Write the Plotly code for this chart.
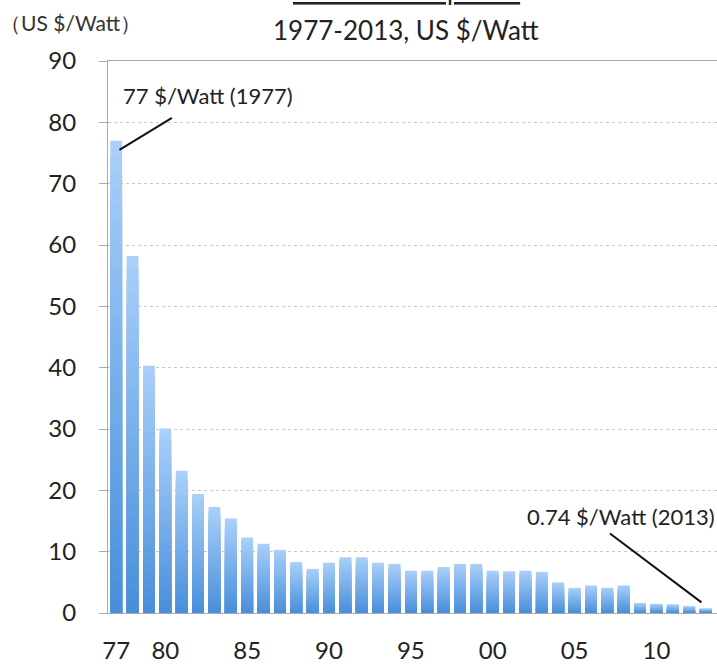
import plotly.graph_objects as go

YEARS = list(range(1977, 2014))
PRICES = [77, 58.2, 40.3, 30.1, 23.2, 19.4, 17.3, 15.4, 12.3, 11.3, 10.3, 8.3, 7.2,
          8.2, 9.1, 9.1, 8.2, 8.0, 6.9, 6.9, 7.5, 8.0, 8.0, 6.9, 6.8, 6.9, 6.7,
          5.0, 4.1, 4.5, 4.1, 4.5, 1.6, 1.5, 1.4, 1.1, 0.74]
TICK_YEARS = [1977, 1980, 1985, 1990, 1995, 2000, 2005, 2010]
TICK_LABELS = ["77", "80", "85", "90", "95", "00", "05", "10"]
Y_TICKS = [0, 10, 20, 30, 40, 50, 60, 70, 80, 90]

FONT = "Lato"
TOP = (170, 208, 250)
BOTTOM = (72, 142, 218)


def mix(t):
    c = [round(BOTTOM[i] + (TOP[i] - BOTTOM[i]) * t) for i in range(3)]
    return f"rgb({c[0]},{c[1]},{c[2]})"


fig = go.Figure()
fig.add_trace(go.Bar(x=YEARS, y=PRICES, width=0.72, marker=dict(color=mix(1.0), line=dict(width=0)),
                     name="US $/Watt", hovertemplate="%{x}: %{y} $/Watt<extra></extra>"))
N = 30
for k in range(1, N):
    f = 1 - k / N
    fig.add_trace(go.Bar(x=YEARS, y=[p * f for p in PRICES], width=0.72,
                         marker=dict(color=mix(f - 0.5 / N), line=dict(width=0)),
                         hoverinfo="skip", showlegend=False))

fig.update_layout(
    width=717, height=669, barmode="overlay", showlegend=False,
    margin=dict(l=108, r=0, t=61, b=56, autoexpand=False),
    paper_bgcolor="white", plot_bgcolor="white",
    font=dict(family=FONT, color="#222"),
    xaxis=dict(range=[1976.5, 2013.7], tickvals=TICK_YEARS, ticktext=TICK_LABELS,
               tickfont=dict(size=24, color="#222"), ticks="", showgrid=False,
               showline=True, mirror=True, linecolor="#aaa", linewidth=1, automargin=False,
               zeroline=False, ticklabelstandoff=16),
    yaxis=dict(range=[0, 90], tickvals=Y_TICKS, tickfont=dict(size=24, color="#222"),
               ticks="outside", ticklen=8, tickcolor="#aaa", showline=True, linecolor="#aaa",
               linewidth=1, showgrid=True, gridcolor="#c8c8c8", griddash="dot", gridwidth=1,
               zeroline=False, ticklabelstandoff=18, automargin=False),
)

fig.add_annotation(xref="paper", yref="paper", x=0.49, y=1.1295, xanchor="center", yanchor="middle",
                   text="<u>Price of solar panels</u>", showarrow=False, font=dict(size=26, color="#222"))
fig.add_annotation(xref="paper", yref="paper", x=0.49, y=1.056, xanchor="center", yanchor="middle",
                   text="1977-2013, US $/Watt", showarrow=False, font=dict(size=26, color="#222"))
fig.add_annotation(xref="paper", yref="paper", x=-0.18, y=1.07, xanchor="left", yanchor="middle",
                   text="（US $/Watt）", showarrow=False, font=dict(size=21, color="#333"))

fig.add_annotation(xref="x", yref="y", x=1977.3, y=84.3, xanchor="left", yanchor="middle",
                   text="77 $/Watt (1977)", showarrow=False, font=dict(size=22, color="#222"))
fig.add_annotation(xref="x", yref="y", x=YEARS[0] + 0.2, y=PRICES[0] - 1.5, ax=54, ay=-33,
                   text="", showarrow=True, arrowhead=0, arrowwidth=2, arrowcolor="#111")
fig.add_annotation(xref="x", yref="y", x=2001.95, y=15.7, xanchor="left", yanchor="middle",
                   text="0.74 $/Watt (2013)", showarrow=False, font=dict(size=22, color="#222"))
fig.add_annotation(xref="x", yref="y", x=YEARS[-1] - 0.25, y=PRICES[-1] + 1.0, ax=-93, ay=-70,
                   text="", showarrow=True, arrowhead=0, arrowwidth=2, arrowcolor="#111")

fig.write_html("out.html")
